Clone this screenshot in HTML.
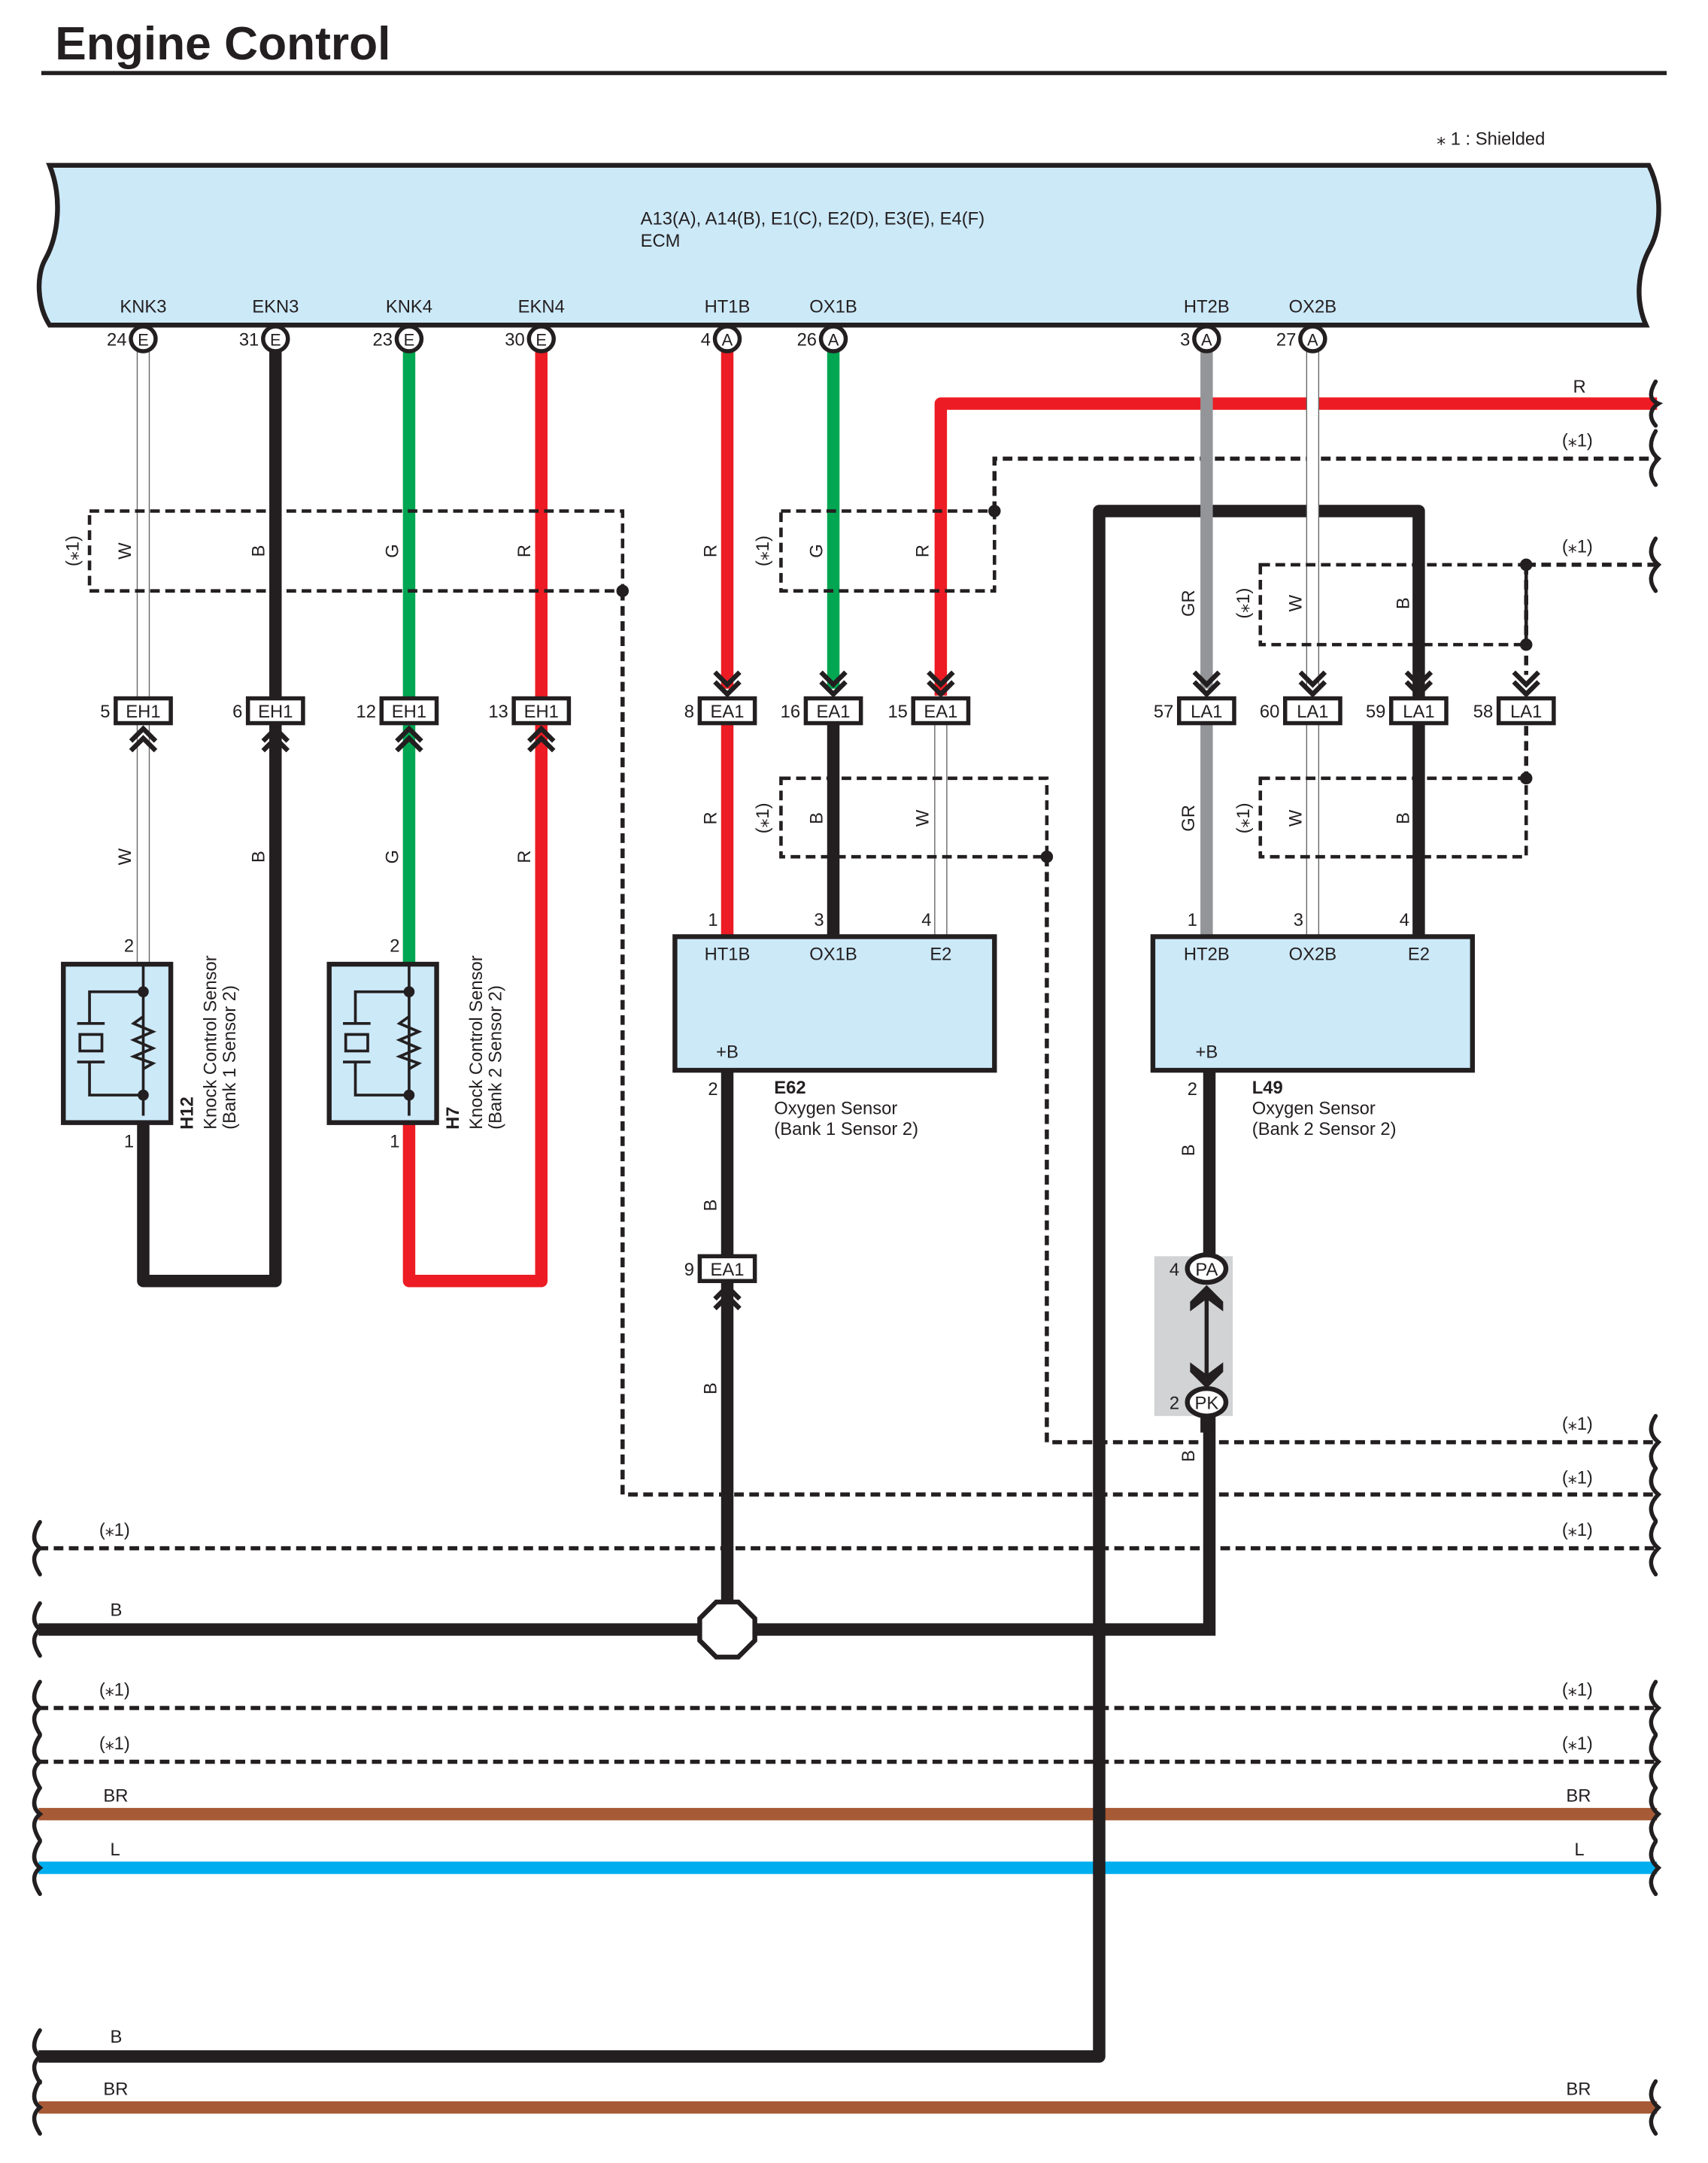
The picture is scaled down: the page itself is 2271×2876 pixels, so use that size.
<!DOCTYPE html>
<html><head><meta charset="utf-8"><style>
html,body{margin:0;padding:0;background:#fff}
svg{display:block}
text{font-family:"Liberation Sans",Arial,sans-serif;fill:#231f20}
</style></head><body>
<svg width="2271" height="2876" viewBox="0 0 1240 1570.3" preserveAspectRatio="none" xmlns="http://www.w3.org/2000/svg">
<defs>
<g id="ks">
<rect x="46" y="700" width="78" height="115" fill="#cce9f8" stroke="#231f20" stroke-width="3.5"/>
<g fill="none" stroke="#231f20" stroke-width="2">
<line x1="104" y1="700" x2="104" y2="810"/>
<polyline points="104,720 65,720 65,743"/>
<polyline points="104,795 65,795 65,771"/>
<line x1="56" y1="743" x2="76" y2="743"/><line x1="56" y1="771" x2="76" y2="771"/>
<rect x="58" y="751" width="16" height="12"/>
<polyline points="104,738 97,743 111,749 97,755 111,761 97,767 111,772 104,776"/>
</g>
<circle cx="104" cy="720" r="4" fill="#231f20"/><circle cx="104" cy="795" r="4" fill="#231f20"/>
<text x="90" y="691">2</text><text x="90" y="833">1</text>
</g>
</defs>
<g font-size="13">
<text x="40" y="43" font-size="34" font-weight="bold">Engine Control</text>
<line x1="30" y1="53" x2="1210" y2="53" stroke="#231f20" stroke-width="3"/>
<text x="1043" y="105" font-size="13">⁎ 1 : Shielded</text>

<path d="M36,120 L1197,120 C1207,140 1206,165 1198,180 C1189,196 1187,218 1195,236 L36,236 C27,222 26,200 33,188 C43,170 45,142 36,120 Z" fill="#cce9f8" stroke="#231f20" stroke-width="3.5"/>
<text x="465" y="163">A13(A), A14(B), E1(C), E2(D), E3(E), E4(F)</text>
<text x="465" y="179">ECM</text>
<g text-anchor="middle">
<text x="104" y="227">KNK3</text><text x="200" y="227">EKN3</text><text x="297" y="227">KNK4</text><text x="393" y="227">EKN4</text>
<text x="528" y="227">HT1B</text><text x="605" y="227">OX1B</text><text x="876" y="227">HT2B</text><text x="953" y="227">OX2B</text>
</g>

<g fill="none" stroke-width="3" stroke="#231f20" stroke-dasharray="7,4">
<polyline points="722,371 722,333 1203,333"/>
<polyline points="1108,410 1203,410"/>
<polyline points="452,429 452,1085 1203,1085"/>
<polyline points="760,622 760,1047 1203,1047"/>
<line x1="28" y1="1124" x2="1203" y2="1124"/>
<line x1="28" y1="1240" x2="1203" y2="1240"/>
<line x1="28" y1="1279" x2="1203" y2="1279"/>
<polyline points="1108,410 1108,490"/>
<polyline points="1108,527 1108,565"/>
</g>
<line x1="28" y1="1317" x2="1203" y2="1317" stroke="#a65a35" stroke-width="9"/>
<line x1="28" y1="1356" x2="1203" y2="1356" stroke="#00aeef" stroke-width="9"/>
<line x1="28" y1="1530" x2="1203" y2="1530" stroke="#a65a35" stroke-width="9"/>
<polyline points="28,1183 878,1183 878,777" fill="none" stroke="#231f20" stroke-width="9"/>
<polyline points="28,1493 798,1493 798,371 1030,371 1030,680" fill="none" stroke="#231f20" stroke-width="9" stroke-linejoin="round"/>
<polyline points="683,505 683,293 1203,293" fill="none" stroke="#ed1c24" stroke-width="9" stroke-linejoin="round"/>

<line x1="200" y1="255" x2="200" y2="506" stroke="#231f20" stroke-width="9"/>
<line x1="297" y1="255" x2="297" y2="506" stroke="#00a651" stroke-width="9"/>
<line x1="393" y1="255" x2="393" y2="506" stroke="#ed1c24" stroke-width="9"/>
<line x1="528" y1="255" x2="528" y2="500" stroke="#ed1c24" stroke-width="9"/>
<line x1="605" y1="255" x2="605" y2="500" stroke="#00a651" stroke-width="9"/>
<line x1="876" y1="255" x2="876" y2="500" stroke="#939598" stroke-width="9"/>
<g stroke-width="9.5" stroke="#666"><line x1="104" y1="255" x2="104" y2="506"/><line x1="953" y1="255" x2="953" y2="500"/><line x1="104" y1="526" x2="104" y2="700"/><line x1="683" y1="526" x2="683" y2="680"/><line x1="953" y1="526" x2="953" y2="680"/></g>
<g stroke-width="8" stroke="#fff"><line x1="104" y1="255" x2="104" y2="506"/><line x1="953" y1="255" x2="953" y2="500"/><line x1="104" y1="526" x2="104" y2="700"/><line x1="683" y1="526" x2="683" y2="680"/><line x1="953" y1="526" x2="953" y2="680"/></g>
<polyline points="200,526 200,930 104,930 104,815" fill="none" stroke="#231f20" stroke-width="9" stroke-linejoin="round"/>
<line x1="297" y1="526" x2="297" y2="700" stroke="#00a651" stroke-width="9"/>
<polyline points="393,526 393,930 297,930 297,815" fill="none" stroke="#ed1c24" stroke-width="9" stroke-linejoin="round"/>
<line x1="528" y1="526" x2="528" y2="680" stroke="#ed1c24" stroke-width="9"/>
<line x1="605" y1="526" x2="605" y2="680" stroke="#231f20" stroke-width="9"/>
<line x1="876" y1="526" x2="876" y2="680" stroke="#939598" stroke-width="9"/>
<line x1="528" y1="777" x2="528" y2="1183" stroke="#231f20" stroke-width="9"/>

<g fill="none" stroke="#231f20" stroke-width="2.5" stroke-dasharray="7,4">
<rect x="65" y="371" width="387" height="58"/>
<rect x="567" y="371" width="155" height="58"/>
<rect x="567" y="565" width="193" height="57"/>
<rect x="915" y="410" width="193" height="58"/>
<rect x="915" y="565" width="193" height="57"/>
</g>
<g fill="#231f20"><circle cx="452" cy="429" r="4.5"/><circle cx="722" cy="371" r="4.5"/><circle cx="760" cy="622" r="4.5"/><circle cx="1108" cy="410" r="4.5"/><circle cx="1108" cy="468" r="4.5"/><circle cx="1108" cy="565" r="4.5"/></g>

<g font-size="13" text-anchor="middle">
<text transform="translate(57,400) rotate(-90)">(⁎1)</text>
<text transform="translate(95,400) rotate(-90)">W</text>
<text transform="translate(192,400) rotate(-90)">B</text>
<text transform="translate(289,400) rotate(-90)">G</text>
<text transform="translate(385,400) rotate(-90)">R</text>
<text transform="translate(520,400) rotate(-90)">R</text>
<text transform="translate(558,400) rotate(-90)">(⁎1)</text>
<text transform="translate(597,400) rotate(-90)">G</text>
<text transform="translate(674,400) rotate(-90)">R</text>
<text transform="translate(867,438) rotate(-90)">GR</text>
<text transform="translate(907,438) rotate(-90)">(⁎1)</text>
<text transform="translate(945,438) rotate(-90)">W</text>
<text transform="translate(1023,438) rotate(-90)">B</text>
<text transform="translate(95,622) rotate(-90)">W</text>
<text transform="translate(192,622) rotate(-90)">B</text>
<text transform="translate(289,622) rotate(-90)">G</text>
<text transform="translate(385,622) rotate(-90)">R</text>
<text transform="translate(520,594) rotate(-90)">R</text>
<text transform="translate(558,594) rotate(-90)">(⁎1)</text>
<text transform="translate(597,594) rotate(-90)">B</text>
<text transform="translate(674,594) rotate(-90)">W</text>
<text transform="translate(867,594) rotate(-90)">GR</text>
<text transform="translate(907,594) rotate(-90)">(⁎1)</text>
<text transform="translate(945,594) rotate(-90)">W</text>
<text transform="translate(1023,594) rotate(-90)">B</text>
<text transform="translate(520,875) rotate(-90)">B</text>
<text transform="translate(520,1008) rotate(-90)">B</text>
<text transform="translate(867,835) rotate(-90)">B</text>
<text transform="translate(867,1057) rotate(-90)">B</text>
</g>

<text x="1142" y="285">R</text>
<text x="1134" y="324">(⁎1)</text>
<text x="1134" y="401">(⁎1)</text>
<text x="1134" y="1038">(⁎1)</text>
<text x="1134" y="1077">(⁎1)</text>
<text x="1134" y="1115">(⁎1)</text>
<text x="72" y="1115">(⁎1)</text>
<text x="80" y="1173">B</text>
<text x="72" y="1231">(⁎1)</text><text x="1134" y="1231">(⁎1)</text>
<text x="72" y="1270">(⁎1)</text><text x="1134" y="1270">(⁎1)</text>
<text x="75" y="1308">BR</text><text x="1137" y="1308">BR</text>
<text x="80" y="1347">L</text><text x="1143" y="1347">L</text>
<text x="80" y="1483">B</text>
<text x="75" y="1521">BR</text><text x="1137" y="1521">BR</text>

<g fill="none" stroke="#231f20" stroke-width="3" stroke-linecap="round">
<path d="M1202,277 C1196,287 1199,291 1204,293 C1199,296 1196,302 1202,309"/>
<path d="M1202,313 C1196,323 1199,329 1204,333 C1199,338 1196,344 1202,352"/>
<path d="M1202,391 C1196,400 1199,406 1204,410 C1199,415 1196,421 1202,429"/>
<path d="M1202,1028 C1196,1037 1199,1043 1204,1047 C1199,1052 1196,1058 1202,1066"/>
<path d="M1202,1066 C1196,1075 1199,1081 1204,1085 C1199,1090 1196,1096 1202,1104"/>
<path d="M1202,1105 C1196,1114 1199,1120 1204,1124 C1199,1129 1196,1135 1202,1143"/>
<path d="M1202,1221 C1196,1230 1199,1236 1204,1240 C1199,1245 1196,1251 1202,1259"/>
<path d="M1202,1260 C1196,1269 1199,1275 1204,1279 C1199,1284 1196,1290 1202,1298"/>
<path d="M1202,1298 C1196,1307 1199,1313 1204,1317 C1199,1322 1196,1328 1202,1336"/>
<path d="M1202,1337 C1196,1346 1199,1352 1204,1356 C1199,1361 1196,1367 1202,1375"/>
<path d="M1202,1511 C1196,1520 1199,1526 1204,1530 C1199,1535 1196,1541 1202,1549"/>
<path d="M29,1105 C23,1114 24,1120 29,1124 C23,1129 24,1135 29,1143"/>
<path d="M29,1164 C23,1173 24,1179 29,1183 C23,1188 24,1194 29,1202"/>
<path d="M29,1221 C23,1230 24,1236 29,1240 C23,1245 24,1251 29,1259"/>
<path d="M29,1260 C23,1269 24,1275 29,1279 C23,1284 24,1290 29,1298"/>
<path d="M29,1298 C23,1307 24,1313 29,1317 C23,1322 24,1328 29,1336"/>
<path d="M29,1337 C23,1346 24,1352 29,1356 C23,1361 24,1367 29,1375"/>
<path d="M29,1474 C23,1483 24,1489 29,1493 C23,1498 24,1504 29,1512"/>
<path d="M29,1511 C23,1520 24,1526 29,1530 C23,1535 24,1541 29,1549"/>
</g>

<g fill="#fff" stroke="#231f20" stroke-width="3">
<circle cx="104" cy="246" r="9"/><circle cx="200" cy="246" r="9"/><circle cx="297" cy="246" r="9"/><circle cx="393" cy="246" r="9"/>
<circle cx="528" cy="246" r="9"/><circle cx="605" cy="246" r="9"/><circle cx="876" cy="246" r="9"/><circle cx="953" cy="246" r="9"/>
</g>
<g text-anchor="middle" font-size="12">
<text x="104" y="251">E</text><text x="200" y="251">E</text><text x="297" y="251">E</text><text x="393" y="251">E</text>
<text x="528" y="251">A</text><text x="605" y="251">A</text><text x="876" y="251">A</text><text x="953" y="251">A</text>
</g>
<g text-anchor="end">
<text x="92" y="251">24</text><text x="188" y="251">31</text><text x="285" y="251">23</text><text x="381" y="251">30</text>
<text x="516" y="251">4</text><text x="593" y="251">26</text><text x="864" y="251">3</text><text x="941" y="251">27</text>
</g>

<g fill="none" stroke="#231f20" stroke-width="3.5">
<path d="M95,545 L104,536 L113,545 M95,538 L104,529 L113,538"/>
<path d="M191,545 L200,536 L209,545 M191,538 L200,529 L209,538"/>
<path d="M288,545 L297,536 L306,545 M288,538 L297,529 L306,538"/>
<path d="M384,545 L393,536 L402,545 M384,538 L393,529 L402,538"/>
<path d="M519,950 L528,941 L537,950 M519,943 L528,934 L537,943"/>
<path d="M519,488 L528,497 L537,488 M519,495 L528,504 L537,495"/>
<path d="M596,488 L605,497 L614,488 M596,495 L605,504 L614,495"/>
<path d="M674,488 L683,497 L692,488 M674,495 L683,504 L692,495"/>
<path d="M867,488 L876,497 L885,488 M867,495 L876,504 L885,495"/>
<path d="M944,488 L953,497 L962,488 M944,495 L953,504 L962,495"/>
<path d="M1021,488 L1030,497 L1039,488 M1021,495 L1030,504 L1039,495"/>
<path d="M1099,488 L1108,497 L1117,488 M1099,495 L1108,504 L1117,495"/>
</g>

<g fill="#fff" stroke="#231f20" stroke-width="3">
<rect x="84" y="507" width="40" height="18"/><rect x="180" y="507" width="40" height="18"/><rect x="277" y="507" width="40" height="18"/><rect x="373" y="507" width="40" height="18"/>
<rect x="508" y="507" width="40" height="18"/><rect x="585" y="507" width="40" height="18"/><rect x="663" y="507" width="40" height="18"/>
<rect x="856" y="507" width="40" height="18"/><rect x="933" y="507" width="40" height="18"/><rect x="1010" y="507" width="40" height="18"/><rect x="1088" y="507" width="40" height="18"/>
<rect x="508" y="912" width="40" height="18"/>
</g>
<g text-anchor="middle">
<text x="104" y="521">EH1</text><text x="200" y="521">EH1</text><text x="297" y="521">EH1</text><text x="393" y="521">EH1</text>
<text x="528" y="521">EA1</text><text x="605" y="521">EA1</text><text x="683" y="521">EA1</text>
<text x="876" y="521">LA1</text><text x="953" y="521">LA1</text><text x="1030" y="521">LA1</text><text x="1108" y="521">LA1</text>
<text x="528" y="926">EA1</text>
</g>
<g text-anchor="end">
<text x="80" y="521">5</text><text x="176" y="521">6</text><text x="273" y="521">12</text><text x="369" y="521">13</text>
<text x="504" y="521">8</text><text x="581" y="521">16</text><text x="659" y="521">15</text>
<text x="852" y="521">57</text><text x="929" y="521">60</text><text x="1006" y="521">59</text><text x="1084" y="521">58</text>
<text x="504" y="926">9</text>
</g>

<use href="#ks"/>
<text transform="translate(140,820) rotate(-90)" font-weight="bold">H12</text>
<text transform="translate(157,820) rotate(-90)">Knock Control Sensor</text>
<text transform="translate(171,820) rotate(-90)">(Bank 1 Sensor 2)</text>
<use href="#ks" transform="translate(193,0)"/>
<text transform="translate(333,820) rotate(-90)" font-weight="bold">H7</text>
<text transform="translate(350,820) rotate(-90)">Knock Control Sensor</text>
<text transform="translate(364,820) rotate(-90)">(Bank 2 Sensor 2)</text>

<rect x="490" y="680" width="232" height="97" fill="#cce9f8" stroke="#231f20" stroke-width="3.5"/>
<g text-anchor="middle"><text x="528" y="697">HT1B</text><text x="605" y="697">OX1B</text><text x="683" y="697">E2</text><text x="528" y="768">+B</text></g>
<text x="514" y="672">1</text><text x="591" y="672">3</text><text x="669" y="672">4</text><text x="514" y="795">2</text>
<text x="562" y="794" font-weight="bold">E62</text><text x="562" y="809">Oxygen Sensor</text><text x="562" y="824">(Bank 1 Sensor 2)</text>

<rect x="837" y="680" width="232" height="97" fill="#cce9f8" stroke="#231f20" stroke-width="3.5"/>
<g text-anchor="middle"><text x="876" y="697">HT2B</text><text x="953" y="697">OX2B</text><text x="1030" y="697">E2</text><text x="876" y="768">+B</text></g>
<text x="862" y="672">1</text><text x="939" y="672">3</text><text x="1016" y="672">4</text><text x="862" y="795">2</text>
<text x="909" y="794" font-weight="bold">L49</text><text x="909" y="809">Oxygen Sensor</text><text x="909" y="824">(Bank 2 Sensor 2)</text>

<rect x="838" y="912" width="57" height="116" fill="#d1d3d4"/>
<line x1="876" y1="941" x2="876" y2="1000" stroke="#231f20" stroke-width="3"/>
<path d="M876,933 L888,945 L888,952 L876,943 L864,952 L864,945 Z" fill="#231f20"/>
<path d="M876,1008 L888,996 L888,989 L876,998 L864,989 L864,996 Z" fill="#231f20"/>
<ellipse cx="876" cy="921" rx="14" ry="10" fill="#fff" stroke="#231f20" stroke-width="3.5"/>
<ellipse cx="876" cy="1018" rx="14" ry="10" fill="#fff" stroke="#231f20" stroke-width="3.5"/>
<text x="876" y="926" text-anchor="middle">PA</text><text x="876" y="1023" text-anchor="middle">PK</text>
<text x="849" y="926">4</text><text x="849" y="1023">2</text>
<line x1="876" y1="1029" x2="876" y2="1040" stroke="#231f20" stroke-width="9"/>

<polygon points="520,1163 536,1163 548,1175 548,1191 536,1203 520,1203 508,1191 508,1175" fill="#fff" stroke="#231f20" stroke-width="3.5"/>
</g>
</svg>
</body></html>
